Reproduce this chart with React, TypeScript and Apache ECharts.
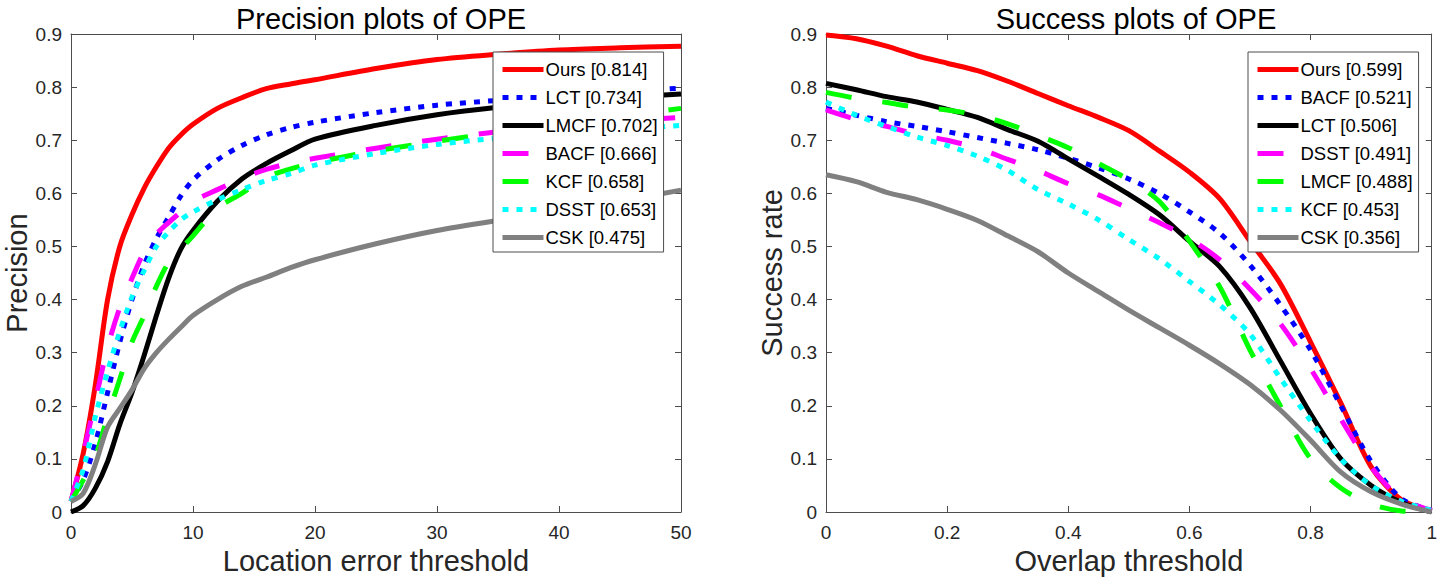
import React, { useEffect, useRef } from "react";
import * as echarts from "echarts";

// ---------- Precision plot data ----------
const precisionX = [0, 1, 2, 3, 4, 5, 6, 7, 8, 9, 10, 12, 14, 16, 18, 20, 25, 30, 35, 40, 45, 50];
const precOurs = [0.02, 0.11, 0.24, 0.4, 0.5, 0.56, 0.61, 0.65, 0.685, 0.71, 0.73, 0.76, 0.78, 0.797, 0.806, 0.814, 0.835, 0.852, 0.862, 0.87, 0.874, 0.877];
const precLCT = [0.02, 0.06, 0.13, 0.225, 0.32, 0.4, 0.465, 0.515, 0.555, 0.595, 0.625, 0.663, 0.69, 0.71, 0.724, 0.734, 0.752, 0.766, 0.775, 0.783, 0.791, 0.798];
const precLMCF = [0.0, 0.012, 0.045, 0.095, 0.165, 0.225, 0.295, 0.37, 0.44, 0.495, 0.53, 0.585, 0.627, 0.656, 0.68, 0.702, 0.728, 0.748, 0.762, 0.772, 0.78, 0.787];
const precBACF = [0.02, 0.11, 0.21, 0.31, 0.385, 0.44, 0.49, 0.523, 0.545, 0.565, 0.585, 0.607, 0.628, 0.645, 0.657, 0.666, 0.685, 0.702, 0.716, 0.727, 0.736, 0.743];
const precKCF = [0.02, 0.06, 0.105, 0.18, 0.25, 0.32, 0.37, 0.425, 0.47, 0.495, 0.52, 0.572, 0.6, 0.63, 0.646, 0.658, 0.68, 0.698, 0.715, 0.73, 0.745, 0.76];
const precDSST = [0.02, 0.08, 0.18, 0.265, 0.34, 0.405, 0.455, 0.5, 0.527, 0.55, 0.565, 0.588, 0.607, 0.624, 0.637, 0.653, 0.675, 0.692, 0.704, 0.713, 0.72, 0.728];
const precCSK = [0.02, 0.035, 0.09, 0.16, 0.195, 0.23, 0.27, 0.3, 0.325, 0.348, 0.37, 0.4, 0.425, 0.442, 0.46, 0.475, 0.505, 0.53, 0.549, 0.566, 0.585, 0.606];

// ---------- Success plot data ----------
const successX = [0, 0.05, 0.1, 0.15, 0.2, 0.25, 0.3, 0.35, 0.4, 0.45, 0.5, 0.55, 0.6, 0.65, 0.7, 0.75, 0.8, 0.85, 0.9, 0.95, 1];
const succOurs = [0.898, 0.891, 0.877, 0.859, 0.845, 0.831, 0.811, 0.788, 0.765, 0.743, 0.718, 0.68, 0.64, 0.59, 0.51, 0.43, 0.32, 0.205, 0.085, 0.023, 0.003];
const succBACF = [0.76, 0.747, 0.735, 0.726, 0.716, 0.705, 0.694, 0.682, 0.666, 0.648, 0.627, 0.6, 0.565, 0.525, 0.465, 0.39, 0.305, 0.2, 0.095, 0.025, 0.003];
const succLCT = [0.807, 0.795, 0.782, 0.772, 0.758, 0.743, 0.72, 0.698, 0.665, 0.632, 0.598, 0.56, 0.51, 0.462, 0.385, 0.285, 0.185, 0.1, 0.05, 0.018, 0.0];
const succDSST = [0.757, 0.739, 0.726, 0.711, 0.7, 0.685, 0.664, 0.643, 0.618, 0.597, 0.571, 0.545, 0.515, 0.475, 0.42, 0.355, 0.27, 0.175, 0.085, 0.025, 0.003];
const succLMCF = [0.79, 0.779, 0.771, 0.762, 0.757, 0.747, 0.731, 0.709, 0.686, 0.656, 0.625, 0.585, 0.51, 0.424, 0.305, 0.2, 0.1, 0.045, 0.015, 0.002, 0.0];
const succKCF = [0.772, 0.747, 0.726, 0.706, 0.69, 0.67, 0.643, 0.607, 0.58, 0.55, 0.513, 0.477, 0.434, 0.39, 0.335, 0.252, 0.172, 0.1, 0.05, 0.02, 0.003];
const succCSK = [0.635, 0.622, 0.602, 0.588, 0.57, 0.549, 0.52, 0.49, 0.45, 0.415, 0.38, 0.347, 0.314, 0.279, 0.24, 0.192, 0.135, 0.075, 0.038, 0.015, 0.0];

const precNames = ["Ours [0.814]", "LCT [0.734]", "LMCF [0.702]", "BACF [0.666]", "KCF [0.658]", "DSST [0.653]", "CSK [0.475]"];
const succNames = ["Ours [0.599]", "BACF [0.521]", "LCT [0.506]", "DSST [0.491]", "LMCF [0.488]", "KCF [0.453]", "CSK [0.356]"];

const FONT = "'Liberation Sans', Arial, Helvetica, sans-serif";
const RED = "#ff0000", BLUE = "#0000ff", BLACK = "#000000", MAGENTA = "#ff00ff", GREEN = "#00ff00", CYAN = "#00ffff", GRAY = "#808080";
const DOT = [6, 8];
const DASH = [26, 31];

type Style = { color: string; dash: number[] | "solid" };
const lineStyles: Style[] = [
  { color: RED, dash: "solid" },
  { color: BLUE, dash: DOT },
  { color: BLACK, dash: "solid" },
  { color: MAGENTA, dash: DASH },
  { color: GREEN, dash: DASH },
  { color: CYAN, dash: DOT },
  { color: GRAY, dash: "solid" },
];

function pairs(xs: number[], ys: number[]) {
  return xs.map((x, i) => [x, ys[i]]);
}

function makeSeries(names: string[], xs: number[], ys: number[][], styles: Style[], axisIdx: number) {
  return names.map((name, i) => ({
    type: "line",
    name,
    xAxisIndex: axisIdx,
    yAxisIndex: axisIdx,
    data: pairs(xs, ys[i]),
    symbol: "none",
    showSymbol: false,
    smooth: 0.3,
    lineStyle: { color: styles[i].color, width: 5, type: styles[i].dash, cap: "butt", join: "round" },
    itemStyle: { color: styles[i].color },
    emphasis: { disabled: true },
  }));
}

const AXIS_COLOR = "#4d4d4d";
const LABEL_COLOR = "#262626";

function xAxes(gridIndex: number, max: number, interval: number, name: string) {
  const common = {
    type: "value",
    gridIndex,
    min: 0,
    max,
    interval,
    splitLine: { show: false },
    axisLine: { show: true, onZero: false, lineStyle: { color: AXIS_COLOR, width: 1 } },
    axisTick: { show: true, inside: true, length: 6, lineStyle: { color: AXIS_COLOR } },
  };
  return [
    {
      ...common,
      position: "bottom",
      name,
      nameLocation: "middle",
      nameGap: 34,
      nameTextStyle: { fontSize: 29, color: LABEL_COLOR, fontFamily: FONT },
      axisLabel: { show: true, fontSize: 19, color: LABEL_COLOR, fontFamily: FONT, margin: 11 },
    },
    { ...common, position: "top", axisLabel: { show: false } },
  ];
}

function yAxes(gridIndex: number, name: string) {
  const common = {
    type: "value",
    gridIndex,
    min: 0,
    max: 0.9,
    interval: 0.1,
    splitLine: { show: false },
    axisLine: { show: true, onZero: false, lineStyle: { color: AXIS_COLOR, width: 1 } },
    axisTick: { show: true, inside: true, length: 6, lineStyle: { color: AXIS_COLOR } },
  };
  return [
    {
      ...common,
      position: "left",
      name,
      nameLocation: "middle",
      nameGap: 40,
      nameTextStyle: { fontSize: 29, color: LABEL_COLOR, fontFamily: FONT },
      axisLabel: { show: true, fontSize: 19, color: LABEL_COLOR, fontFamily: FONT, margin: 9 },
    },
    { ...common, position: "right", axisLabel: { show: false } },
  ];
}

function legend(names: string[], left: number) {
  return {
    data: names.map((n, i) => ({
      name: n,
      lineStyle: { color: lineStyles[i].color, width: 5, type: lineStyles[i].dash, cap: "butt" },
    })),
    orient: "vertical",
    left,
    top: 52,
    padding: [8, 6, 5, 7],
    itemGap: 9,
    itemWidth: 41,
    itemHeight: 14,
    selectedMode: false,
    backgroundColor: "#ffffff",
    borderColor: "#4d4d4d",
    borderWidth: 1,
    borderRadius: 0,
    itemStyle: { opacity: 0 },
    lineStyle: { width: 5 },
    textStyle: { fontSize: 18.5, color: "#000", fontFamily: FONT, lineHeight: 14, padding: [0, 0, 0, -3] },
  };
}

export default function App() {
  const ref = useRef<HTMLDivElement>(null);
  useEffect(() => {
    if (!ref.current) return;
    const chart = echarts.init(ref.current, null, { renderer: "svg" });
    const option = {
      animation: false,
      backgroundColor: "#ffffff",
      textStyle: { fontFamily: FONT },
      title: [
        { text: "Precision plots of OPE", left: 376, top: -1, textAlign: "center", textStyle: { fontSize: 29, fontWeight: "normal", color: "#000", fontFamily: FONT } },
        { text: "Success plots of OPE", left: 1131, top: -1, textAlign: "center", textStyle: { fontSize: 29, fontWeight: "normal", color: "#000", fontFamily: FONT } },
      ],
      grid: [
        { left: 71, top: 34, width: 610, height: 478, containLabel: false },
        { left: 826, top: 34, width: 610, height: 478, containLabel: false },
      ],
      xAxis: [...xAxes(0, 50, 10, "Location error threshold"), ...xAxes(1, 1, 0.2, "Overlap threshold")],
      yAxis: [...yAxes(0, "Precision"), ...yAxes(1, "Success rate")],
      legend: [legend(precNames, 493), legend(succNames, 1248)],
      series: [
        ...makeSeries(precNames, precisionX, [precOurs, precLCT, precLMCF, precBACF, precKCF, precDSST, precCSK], lineStyles, 0),
        ...makeSeries(succNames, successX, [succOurs, succBACF, succLCT, succDSST, succLMCF, succKCF, succCSK], lineStyles, 2),
      ],
    };
    chart.setOption(option as any);
    return () => chart.dispose();
  }, []);
  return <div ref={ref} style={{ position: "fixed", left: 0, top: 0, width: 1440, height: 583 }} />;
}
